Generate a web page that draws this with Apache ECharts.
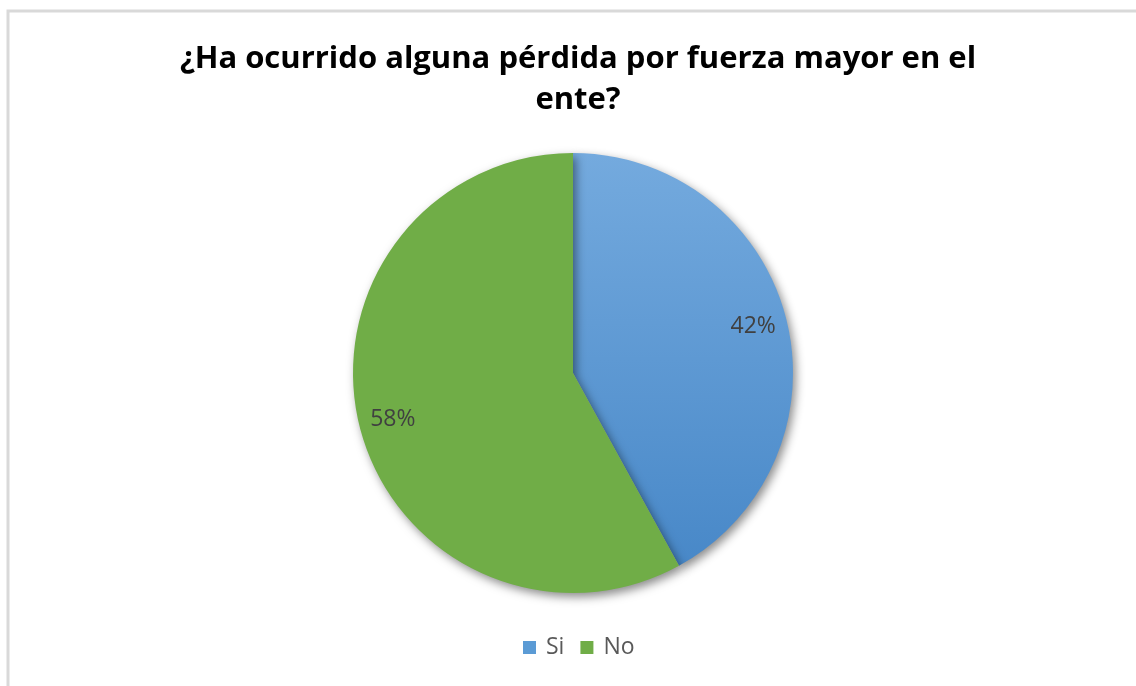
<!DOCTYPE html>
<html>
<head>
<meta charset="utf-8">
<script src="https://cdn.jsdelivr.net/npm/echarts@6/dist/echarts.min.js"></script>
<style>
  html, body { margin: 0; padding: 0; background: #fff; }
  #chart { width: 1136px; height: 686px; }
</style>
</head>
<body>
<div id="chart"></div>
<script>
// datos
var categorias = ['Si', 'No'];
var valores = [42, 58];
var colores = ['#5b9bd5', '#70ad47'];
var titulo = '¿Ha ocurrido alguna pérdida por fuerza mayor en el\nente?';

var chart = echarts.init(document.getElementById('chart'));

var datos = categorias.map(function (c, i) {
    var color = colores[i];
    if (i === 0) {
        color = new echarts.graphic.LinearGradient(0, 0, 0, 1, [
            { offset: 0, color: '#74aade' },
            { offset: 1, color: '#4888c8' }
        ]);
    }
    return { name: c, value: valores[i], itemStyle: { color: color } };
});

// serie transparente solo para colocar las etiquetas a ~0.8 del radio
var etiquetas = categorias.map(function (c, i) {
    return { name: c, value: valores[i] };
});

var option = {
    animation: false,
    title: {
        text: titulo,
        left: 573,
        top: 34,
        textAlign: 'center',
        textStyle: {
            fontFamily: 'Open Sans',
            fontWeight: 'bold',
            fontSize: 31,
            color: '#000',
            lineHeight: 41
        }
    },
    legend: {
        bottom: 22,
        left: 518,
        itemWidth: 13,
        itemHeight: 13,
        itemGap: 16,
        icon: 'rect',
        data: categorias.map(function (c, i) {
            return { name: c, itemStyle: { color: colores[i] } };
        }),
        textStyle: { fontFamily: 'Open Sans', fontSize: 23, color: '#595959', padding: [0, 0, 0, 5] }
    },
    graphic: [{
        type: 'rect',
        shape: { x: 8, y: 11, width: 1140, height: 690 },
        style: { fill: 'none', stroke: '#d9d9d9', lineWidth: 3 },
        silent: true
    }],
    series: [{
        type: 'pie',
        center: [573, 373],
        radius: 220,
        startAngle: 90,
        clockwise: true,
        label: { show: false },
        labelLine: { show: false },
        itemStyle: {
            borderWidth: 0,
            shadowBlur: 10,
            shadowOffsetX: 3,
            shadowOffsetY: 4,
            shadowColor: 'rgba(0,0,0,0.45)'
        },
        emphasis: { disabled: true },
        data: datos
    }, {
        type: 'pie',
        center: [573, 373],
        radius: 366,
        startAngle: 90,
        clockwise: true,
        silent: true,
        legendHoverLink: false,
        itemStyle: { color: 'rgba(0,0,0,0)' },
        label: {
            show: true,
            position: 'inside',
            formatter: '{c}%',
            fontFamily: 'Open Sans',
            fontSize: 23,
            color: '#404040'
        },
        labelLine: { show: false },
        emphasis: { disabled: true },
        data: etiquetas
    }]
};

chart.setOption(option);
</script>
</body>
</html>
